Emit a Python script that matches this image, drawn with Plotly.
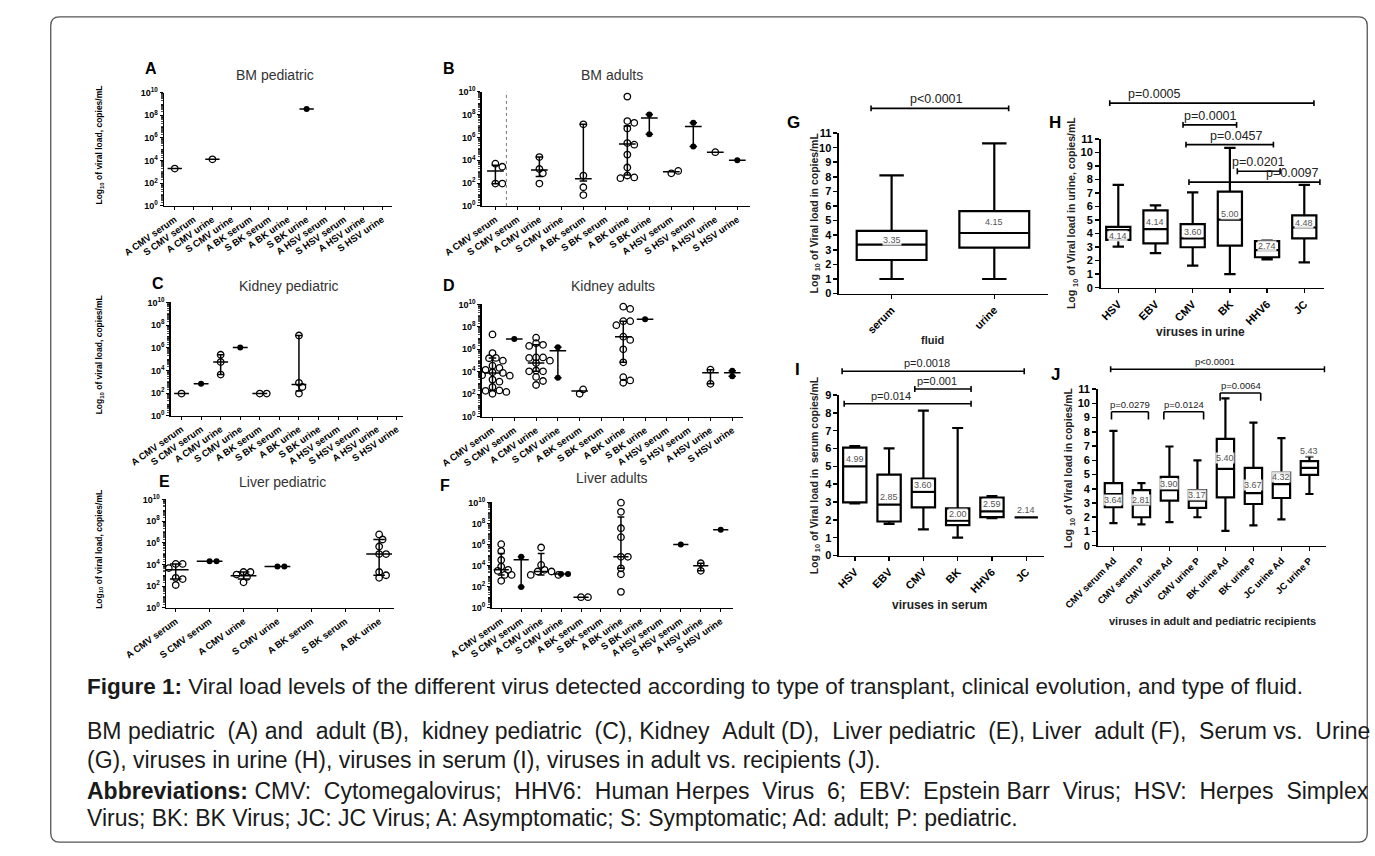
import math
import plotly.graph_objects as go

FONT = "Arial, Liberation Sans, Helvetica, sans-serif"
W, H = 1375, 856


def fx(x):
    return x / W


def fy(y):
    return 1 - y / H


# ------------------------------------------------------------------ data
CATS12 = ["A CMV serum", "S CMV serum", "A CMV urine", "S CMV urine",
          "A BK serum", "S BK serum", "A BK urine", "S BK urine",
          "A HSV serum", "S HSV serum", "A HSV urine", "S HSV urine"]
CATS_E = CATS12[:7]

# A: BM pediatric (copies/mL)
A_values = [[2000], [], [13000], [], [], [], [], [3.6e8], [], [], [], []]
A_median = [2000, None, 13000, None, None, None, None, 3.6e8, None, None, None, None]
A_q1 = [None] * 12
A_q3 = [None] * 12

# B: BM adults
B_values = [[5000, 2700, 90, 90], [], [19000, 1700, 720, 90], [],
            [1.4e7, 450, 43, 9], [],
            [3.7e9, 2.7e7, 1.9e7, 6e6, 3.2e5, 2.3e5, 3.1e4, 2300, 460, 310, 270],
            [1e8, 1.9e6], [720, 1150], [1.95e7, 1.6e5], [51000], [10000]]
B_median = [1150, None, 1400, None, 240, None, 2.7e5, 5e7, 1000, 9e6, 51000, 10000]
B_q1 = [87, None, 370, None, 150, None, 500, 1.9e6, None, 1.6e5, None, None]
B_q3 = [3700, None, 19000, None, 1.4e7, None, 1e7, 1e8, None, 1.95e7, None, None]

# C: Kidney pediatric
C_values = [[90], [660], [2.4e5, 5.5e4, 4300], [1.05e6], [90, 90], [],
            [1.2e7, 800, 340, 90], [], [], [], [], []]
C_median = [90, 660, 5.5e4, 1.05e6, 90, None, 570, None, None, None, None, None]
C_q1 = [None, None, 4300, None, None, None, 150, None, None, None, None, None]
C_q3 = [None, None, 2.4e5, None, None, None, 1.2e7, None, None, None, None, None]

# D: Kidney adults
D_values = [[2.1e7, 4.6e5, 1.7e5, 1.6e5, 9.8e4, 3.5e4, 2.2e4, 1.5e4, 8900, 7900,
             5000, 4500, 2000, 1300, 440, 220, 200, 160, 110, 87],
            [8.3e6],
            [1.1e7, 3.5e6, 2.5e6, 2e6, 1.9e5, 1.9e5, 1.7e5, 9.8e4, 6e4, 1.3e4,
             1.1e4, 1.1e4, 3500, 1500, 660],
            [1.5e6, 2900], [110, 270], [],
            [6.3e9, 4e9, 3.2e8, 3.2e8, 1.4e8, 1.35e7, 6.8e6, 1e6, 6.9e4, 3300, 1700, 1050],
            [4.8e8], [], [], [15500, 850], [4000, 12500]]
D_median = [7900, 8.3e6, 6e4, 7.5e5, 190, None, 1.35e7, 4.8e8, None, None, 8200, 8000]
D_q1 = [220, None, 1.1e4, 2900, None, None, 6.9e4, None, None, None, 850, 4000]
D_q3 = [1.7e5, None, 2.5e6, 1.5e6, None, None, 3.2e8, None, None, None, 15500, 12500]

# E: Liver pediatric
E_values = [[11000, 11000, 4600, 580, 440, 125], [19500, 19500],
            [2000, 2000, 1150, 700, 220], [6500, 6500], [], [],
            [5.8e6, 2e6, 4.5e5, 9e4, 9e4, 2000, 1000, 580]]
E_median = [3200, 19500, 900, 6500, None, None, 9e4]
E_q1 = [440, None, 460, None, None, None, 1000]
E_q3 = [11000, None, 2000, None, None, None, 2e6]

# F: Liver adults
F_values = [[1.07e6, 2.4e5, 3.4e4, 8000, 4000, 3200, 2000, 1300, 1300, 360],
            [6.9e4, 93], [5.2e5, 11500, 4000, 2750, 2750, 1300, 1300], [1550, 1550],
            [10, 10], [], [9.3e9, 1.26e9, 3.5e7, 5e6, 6.8e4, 6.8e4, 5500, 1500, 32],
            [], [], [1e6], [16600, 3160], [2.5e7]]
F_median = [4000, 3.5e4, 2750, 1550, 10, None, 6.8e4, None, None, 1e6, 9900, 2.5e7]
F_q1 = [1300, 93, 1300, None, None, None, 5500, None, None, None, 3160, None]
F_q3 = [1.4e5, 6.9e4, 1.4e5, None, None, None, 4e8, None, None, None, 16600, None]

# G: serum vs urine (log10 copies/mL)
G_cats = ["serum", "urine"]
G_min = [1.0, 1.0]
G_q1 = [2.3, 3.15]
G_med = [3.35, 4.15]
G_q3 = [4.3, 5.65]
G_max = [8.1, 10.3]
G_lab = ["3.35", "4.15"]

# H: viruses in urine
H_cats = ["HSV", "EBV", "CMV", "BK", "HHV6", "JC"]
H_min = [3.04, 2.55, 1.63, 1.0, 2.1, 1.87]
H_q1 = [3.53, 3.28, 2.99, 3.11, 2.25, 3.65]
H_med = [4.25, 4.33, 3.65, 5.04, 2.78, 4.45]
H_q3 = [4.5, 5.72, 4.7, 7.1, 3.45, 5.35]
H_max = [7.6, 6.08, 7.05, 10.34, 3.48, 7.6]
H_lab = ["4.14", "4.14", "3.60", "5.00", "2.74", "4.48"]

# I: viruses in serum
I_cats = ["HSV", "EBV", "CMV", "BK", "HHV6", "JC"]
I_min = [2.92, 1.78, 1.47, 1.0, 2.1, 2.14]
I_q1 = [2.98, 1.91, 2.7, 1.7, 2.15, 2.14]
I_med = [5.0, 2.85, 3.57, 1.95, 2.48, 2.14]
I_q3 = [6.05, 4.54, 4.32, 2.65, 3.25, 2.14]
I_max = [6.14, 6.01, 8.12, 7.15, 3.33, 2.14]
I_lab = ["4.99", "2.85", "3.60", "2.00", "2.59", "2.14"]

# J: adult vs pediatric recipients
J_cats = ["CMV serum Ad", "CMV serum P", "CMV urine Ad", "CMV urine P",
          "BK urine Ad", "BK urine P", "JC urine Ad", "JC urine P"]
J_min = [1.59, 1.5, 1.66, 2.0, 1.04, 1.43, 1.85, 3.63]
J_q1 = [2.7, 2.0, 3.16, 2.66, 3.4, 2.93, 3.35, 4.97]
J_med = [3.63, 2.89, 3.9, 3.16, 5.4, 3.7, 4.32, 5.47]
J_q3 = [4.39, 3.9, 4.83, 3.9, 7.5, 5.47, 5.13, 5.94]
J_max = [8.06, 4.39, 6.97, 6.0, 10.35, 8.64, 7.55, 6.28]
J_lab = ["3.64", "2.81", "3.90", "3.17", "5.40", "3.67", "4.32", "5.43"]

# significance brackets: (text, from category, to category, level, text position)
G_brackets = [("p<0.0001", -0.2, 1.14, 12.69, 0.44)]
H_brackets = [("p=0.0005", -0.23, 5.26, 13.65, 0.96),
              ("p=0.0001", 1.74, 3.18, 12.04, 2.47),
              ("p=0.0457", 1.82, 4.17, 10.58, 3.18),
              ("p=0.0201", 3.2, 4.35, 8.61, 3.78),
              ("p=0.0097", 1.9, 5.42, 7.81, 4.69)]
I_brackets = [("p=0.0018", -0.37, 4.94, 10.33, 2.12),
              ("p=0.001", 1.75, 3.39, 9.34, 2.4),
              ("p=0.014", -0.31, 3.39, 8.51, 1.05)]
J_brackets = [("p<0.0001", -0.1, 7.54, 12.39, 3.63),
              ("p=0.0279", -0.07, 1.25, 9.41, 0.59),
              ("p=0.0124", 1.8, 3.22, 9.41, 2.53),
              ("p=0.0064", 3.81, 5.26, 10.73, 4.57)]

# ------------------------------------------------------------------ style / geometry
GEOM = {
    "A": dict(n=1, x0=125, x1=360, yt=87, yb=202, c0=136, dc=19.45),
    "B": dict(n=2, x0=453, x1=730, yt=86, yb=202, c0=467, dc=22.7),
    "C": dict(n=3, x0=132, x1=372, yt=300, yb=415, c0=143, dc=20.2),
    "D": dict(n=4, x0=453, x1=723, yt=302, yb=416, c0=464, dc=22.5),
    "E": dict(n=5, x0=127, x1=362, yt=500, yb=610, c0=137, dc=35.0),
    "F": dict(n=6, x0=463, x1=712, yt=503, yb=610, c0=473, dc=20.6),
    "G": dict(n=7, x0=822, x1=1037, yt=128, yb=291, c0=876, dc=106.0, ymax=11),
    "H": dict(n=8, x0=1092, x1=1322, yt=134, yb=285, c0=1110, dc=38.4, ymax=11),
    "I": dict(n=9, x0=822, x1=1033, yt=394, yb=557, c0=838, dc=35.4, ymax=9),
    "J": dict(n=10, x0=1089, x1=1324, yt=388, yb=547, c0=1105, dc=28.9, ymax=11),
}
G_shift = [5, 11]
H_shift = [-6, 7, 6, 6, 4, 5]
I_shift = [7, 8, 7, 7, 7, 7]
J_shift = [-6, 5, 6, 6, 11, 8, 7, 17]

fig = go.Figure()
layout = dict(width=W, height=H, margin=dict(l=0, r=0, t=0, b=0),
              paper_bgcolor="white", plot_bgcolor="white", showlegend=False,
              font=dict(family=FONT, color="black"))
annotations = []
shapes = []


def ids(n):
    s = "" if n == 1 else str(n)
    return "x" + s, "y" + s, "xaxis" + s, "yaxis" + s


def xrange_of(g):
    return [-(g["c0"] - g["x0"]) / g["dc"], (g["x1"] - g["c0"]) / g["dc"]]


def swarm(vals, ppd, dc, diam=6.5):
    placed, offs = [], []
    cands = [0]
    for i in range(1, 12):
        cands += [i, -i]
    for v in vals:
        yp = math.log10(v) * ppd
        xo = 0
        for c in cands:
            xo = c * diam * 0.55
            if all((xo - a) ** 2 + (yp - b) ** 2 >= (diam * 0.85) ** 2 for a, b in placed):
                break
        placed.append((xo, yp))
        offs.append(xo / dc)
    return offs


LOG_TICKS = [10 ** k for k in range(0, 11, 2)]
LOG_TEXT = ["10<sup>%d</sup>" % k for k in range(0, 11, 2)]
LOG_MINOR = [m * 10 ** d for d in range(0, 10) for m in range(1, 10)
             if not (m == 1 and d % 2 == 0)] + [1e10]
LOG_MINOR = [v for v in LOG_MINOR if v not in LOG_TICKS]


def paper_text(x, y, text, size, bold=False, color="black", angle=0):
    annotations.append(dict(x=fx(x), y=fy(y), xref="paper", yref="paper",
                            xanchor="center", yanchor="middle", textangle=angle,
                            text=("<b>%s</b>" % text) if bold else text, showarrow=False,
                            font=dict(size=size, family=FONT, color=color)))


def dot_panel(key, cats, values, med, q1, q3, tickangle):
    g = GEOM[key]
    xr, yr, xk, yk = ids(g["n"])
    ppd = (g["yb"] - g["yt"]) / 10.0
    ox, oy, fxs, fys = [], [], [], []
    for i, vals in enumerate(values):
        if not vals:
            continue
        offs = swarm(vals, ppd, g["dc"])
        for v, o in zip(vals, offs):
            if cats[i].startswith("S "):
                fxs.append(i + o)
                fys.append(v)
            else:
                ox.append(i + o)
                oy.append(v)
    lx, ly = [], []
    for i, m in enumerate(med):
        if m is not None:
            lx += [i - 0.38, i + 0.38, None]
            ly += [m, m, None]
        if q1[i] is not None and q3[i] is not None:
            lx += [i, i, None, i - 0.17, i + 0.17, None, i - 0.17, i + 0.17, None]
            ly += [q1[i], q3[i], None, q1[i], q1[i], None, q3[i], q3[i], None]
    fig.add_trace(go.Scatter(x=lx, y=ly, mode="lines", xaxis=xr, yaxis=yr,
                             line=dict(color="black", width=1.5), hoverinfo="skip"))
    fig.add_trace(go.Scatter(x=ox, y=oy, mode="markers", xaxis=xr, yaxis=yr, cliponaxis=False,
                             marker=dict(symbol="circle-open", size=6.5, color="black",
                                         line=dict(width=1.3, color="black"))))
    fig.add_trace(go.Scatter(x=fxs, y=fys, mode="markers", xaxis=xr, yaxis=yr, cliponaxis=False,
                             marker=dict(symbol="circle", size=6, color="black")))
    layout[xk] = dict(domain=[fx(g["x0"]), fx(g["x1"])], range=xrange_of(g), anchor=yr,
                      tickmode="array", tickvals=list(range(len(cats))), ticktext=cats,
                      tickangle=tickangle, tickfont=dict(size=9.5, weight="bold", family=FONT),
                      ticks="outside", ticklen=3, tickwidth=1, tickcolor="black",
                      showline=True, linecolor="black", linewidth=1.5,
                      showgrid=False, zeroline=False, fixedrange=True)
    layout[yk] = dict(domain=[fy(g["yb"]), fy(g["yt"])], type="log", range=[0, 10], anchor=xr,
                      tickmode="array", tickvals=LOG_TICKS, ticktext=LOG_TEXT,
                      tickfont=dict(size=9, weight="bold", family=FONT),
                      ticks="outside", ticklen=3, tickwidth=1, tickcolor="black",
                      minor=dict(tickmode="array", tickvals=LOG_MINOR, ticks="outside",
                                 ticklen=2, tickwidth=0.7, tickcolor="black"),
                      showline=True, linecolor="black", linewidth=1.5,
                      showgrid=False, zeroline=False, fixedrange=True)


def box_panel(key, cats, vmin, vq1, vmed, vq3, vmax, labels, shifts, brackets,
              bw, whisk, pfont, jstyle=False):
    g = GEOM[key]
    xr, yr, xk, yk = ids(g["n"])
    pos = list(range(len(cats)))
    fig.add_trace(go.Box(x=pos, q1=vq1, median=vmed, q3=vq3, lowerfence=vmin, upperfence=vmax,
                         xaxis=xr, yaxis=yr, width=bw, whiskerwidth=whisk,
                         fillcolor="white", line=dict(color="black", width=2.2),
                         boxpoints=False, hoverinfo="skip"))
    for i, (lab, m, s) in enumerate(zip(labels, vmed, shifts)):
        annotations.append(dict(x=i, y=m, xref=xr, yref=yr, text=lab, showarrow=False,
                                xanchor="center", yanchor="middle",
                                yshift=s, font=dict(size=9, color="#555555", family=FONT),
                                bgcolor="rgba(255,255,255,0.85)", borderpad=0))
    hpx = g["yb"] - g["yt"]
    for (txt, a, b, lev, tx) in brackets:
        yd = lev / g["ymax"]
        tk = 3.0 / hpx
        shapes.append(dict(type="line", xref=xr, yref=yr + " domain", x0=a, x1=b, y0=yd, y1=yd,
                           line=dict(color="black", width=1.6)))
        small = jstyle and (b - a) < 2
        for xe in (a, b):
            if small:
                y0e, y1e = yd, yd - 2.6 * tk
            else:
                y0e, y1e = yd - tk, yd + tk
            shapes.append(dict(type="line", xref=xr, yref=yr + " domain", x0=xe, x1=xe,
                               y0=y0e, y1=y1e, line=dict(color="black", width=1.6)))
        annotations.append(dict(x=tx, y=yd, xref=xr, yref=yr + " domain", text=txt,
                                showarrow=False, xanchor="center", yanchor="bottom", yshift=0,
                                font=dict(size=pfont, color="#222222", family=FONT)))
    layout[xk] = dict(domain=[fx(g["x0"]), fx(g["x1"])], range=xrange_of(g), anchor=yr,
                      tickmode="array", tickvals=pos, ticktext=cats, tickangle=-45,
                      tickfont=dict(size=11 if not jstyle else 9.5, weight="bold", family=FONT),
                      ticks="outside", ticklen=4, tickwidth=1.5, tickcolor="black",
                      showline=True, linecolor="black", linewidth=1.8,
                      showgrid=False, zeroline=False, fixedrange=True)
    layout[yk] = dict(domain=[fy(g["yb"]), fy(g["yt"])], range=[0, g["ymax"]], anchor=xr,
                      tickmode="linear", tick0=0, dtick=1,
                      tickfont=dict(size=11, weight="bold", family=FONT),
                      ticks="outside", ticklen=4, tickwidth=1.5, tickcolor="black",
                      showline=True, linecolor="black", linewidth=1.8,
                      showgrid=False, zeroline=False, fixedrange=True)


dot_panel("A", CATS12, A_values, A_median, A_q1, A_q3, -35)
dot_panel("B", CATS12, B_values, B_median, B_q1, B_q3, -35)
dot_panel("C", CATS12, C_values, C_median, C_q1, C_q3, -35)
dot_panel("D", CATS12, D_values, D_median, D_q1, D_q3, -35)
dot_panel("E", CATS_E, E_values, E_median, E_q1, E_q3, -36)
dot_panel("F", CATS12, F_values, F_median, F_q1, F_q3, -35)

box_panel("G", G_cats, G_min, G_q1, G_med, G_q3, G_max, G_lab, G_shift, G_brackets,
          0.68, 0.35, 12.5)
box_panel("H", H_cats, H_min, H_q1, H_med, H_q3, H_max, H_lab, H_shift, H_brackets,
          0.65, 0.47, 12.5)
box_panel("I", I_cats, I_min, I_q1, I_med, I_q3, I_max, I_lab, I_shift, I_brackets,
          0.68, 0.47, 11)
box_panel("J", J_cats, J_min, J_q1, J_med, J_q3, J_max, J_lab, J_shift, J_brackets,
          0.62, 0.47, 9.5, jstyle=True)

# dotted separator in panel B
shapes.append(dict(type="line", xref="x2", yref="y2 domain", x0=0.5, x1=0.5, y0=0, y1=1,
                   line=dict(color="#777777", width=1, dash="dot")))

# panel letters and titles
for letter, x, y in [("A", 112, 62), ("B", 419, 62), ("C", 119, 281), ("D", 419, 283),
                     ("E", 125, 482), ("F", 415, 486)]:
    paper_text(x, y, letter, 16, bold=True)
for letter, x, y in [("G", 775, 117), ("H", 1045, 117), ("I", 779, 368), ("J", 1045, 373)]:
    paper_text(x, y, letter, 17, bold=True)
for title, x, y in [("BM pediatric", 240, 69), ("BM adults", 587, 69),
                    ("Kidney pediatric", 254, 283), ("Kidney adults", 588, 283),
                    ("Liver pediatric", 247, 482), ("Liver adults", 587, 478)]:
    paper_text(x, y, title, 14, color="#333333")

# y titles of dot panels
for key in ("A", "C", "E"):
    g = GEOM[key]
    paper_text(58, (g["yt"] + g["yb"]) / 2 - 4, "Log<sub>10</sub> of viral load, copies/mL",
               8.5, bold=True, angle=-90)

# y titles of box panels
for key, x, txt in [("G", 797, "Log <sub>10</sub> of Viral load in copies/mL"),
                    ("H", 1063, "Log <sub>10</sub> of Viral load in urine, copies/mL"),
                    ("I", 797, "Log <sub>10</sub> of Viral load in  serum copies/mL"),
                    ("J", 1060, "Log <sub>10</sub> of Viral load in copies/mL")]:
    g = GEOM[key]
    paper_text(x, (g["yt"] + g["yb"]) / 2, txt, 10.5, bold=True, color="#222222", angle=-90)

# x titles of box panels
for txt, x, y, s in [("fluid", 918, 338, 11), ("viruses in urine", 1195, 330, 12),
                     ("viruses in serum", 925, 607, 12),
                     ("viruses in adult and pediatric recipients", 1207, 623, 11)]:
    paper_text(x, y, txt, s, bold=True, color="#222222")

# caption; lines 2 and 4 are justified in the source, so some word gaps get one extra space
NB = "\u00a0"


def justify(text, n_extra):
    words = text.split(" ")
    gaps = len(words) - 1
    out = words[0]
    for i in range(gaps):
        extra = (math.floor((i + 1) * n_extra / gaps) - math.floor(i * n_extra / gaps)) > 0
        out += " " + (NB if extra else "") + words[i + 1]
    return out


CAPTION = [
    (690, 22.5, "<b>Figure 1:</b> Viral load levels of the different virus detected according to type of transplant, clinical evolution, and type of fluid."),
    (735, 23, justify("BM pediatric (A) and adult (B), kidney pediatric (C), Kidney Adult (D), Liver pediatric (E), Liver adult (F), Serum vs. Urine", 10)),
    (765, 23, "(G), viruses in urine (H), viruses in serum (I), viruses in adult vs. recipients (J)."),
    (796, 23, justify("<b>Abbreviations:</b> CMV: Cytomegalovirus; HHV6: Human Herpes Virus 6; EBV: Epstein Barr Virus; HSV: Herpes Simplex", 11)),
    (823, 23, "Virus; BK: BK Virus; JC: JC Virus; A: Asymptomatic; S: Symptomatic; Ad: adult; P: pediatric."),
]
for y, size, txt in CAPTION:
    annotations.append(dict(x=fx(43), y=fy(y), xref="paper", yref="paper", text=txt,
                            xanchor="left", yanchor="middle", showarrow=False, align="left",
                            font=dict(size=size, family=FONT, color="#1a1a1a")))

# rounded frame
x0, x1, y0, y1 = fx(8), fx(1367), fy(848), fy(10)
rx, ry = 9 / W, 9 / H
path = (f"M {x0 + rx},{y1} L {x1 - rx},{y1} Q {x1},{y1} {x1},{y1 - ry} "
        f"L {x1},{y0 + ry} Q {x1},{y0} {x1 - rx},{y0} L {x0 + rx},{y0} "
        f"Q {x0},{y0} {x0},{y0 + ry} L {x0},{y1 - ry} Q {x0},{y1} {x0 + rx},{y1} Z")
shapes.append(dict(type="path", xref="paper", yref="paper", path=path,
                   line=dict(color="#555555", width=1.3)))

layout["annotations"] = annotations
layout["shapes"] = shapes
fig.update_layout(**layout)

fig.write_html("out.html", config={"displayModeBar": False, "staticPlot": True},
               post_script="document.body.style.margin='0';document.body.style.overflow='hidden';")
